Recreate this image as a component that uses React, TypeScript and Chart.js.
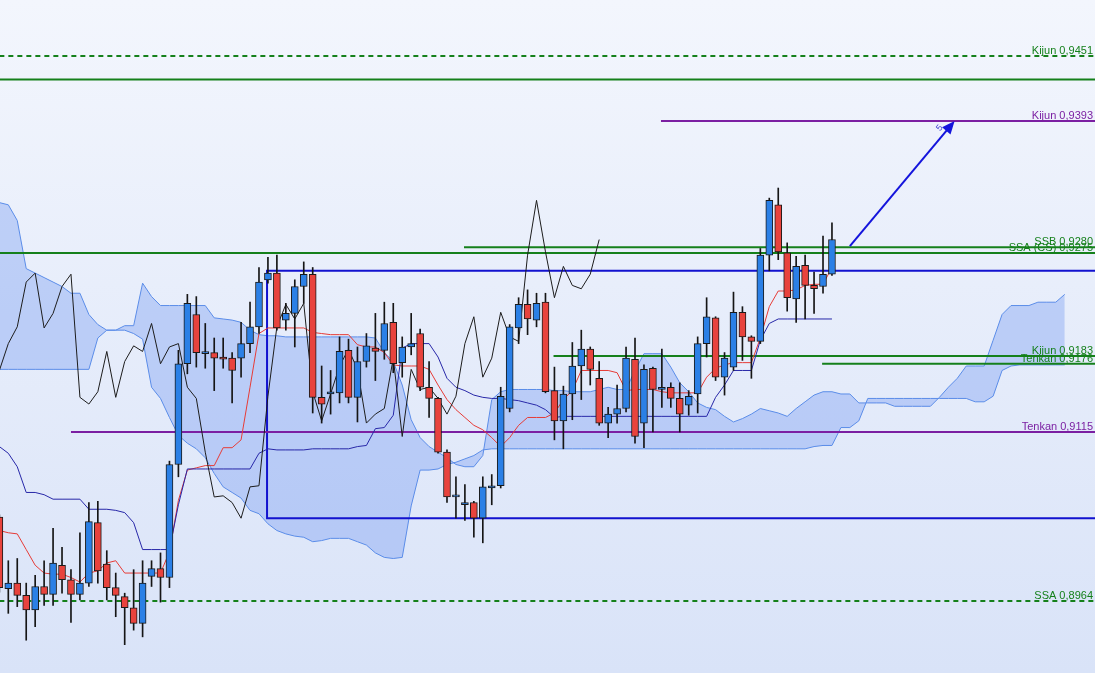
import { useEffect, useRef } from "react"
import { Chart, registerables } from "chart.js"
import type { Plugin } from "chart.js"

Chart.register(...registerables)

// candles, oldest first (EUR/CHF style quotes)
const opens = [
  0.9039, 0.8975, 0.898, 0.8969, 0.8956, 0.8977, 0.897, 0.8996, 0.8983, 0.897,
  0.898, 0.9034, 0.8997, 0.8976, 0.8968, 0.8958, 0.8944, 0.8986, 0.8993, 0.8985,
  0.9086, 0.9176, 0.922, 0.9185, 0.9186, 0.9182, 0.9181, 0.9181, 0.9194, 0.9209,
  0.9251, 0.9257, 0.9215, 0.9221, 0.9245, 0.9256, 0.9146, 0.9149, 0.915, 0.9188,
  0.9146, 0.9178, 0.919, 0.9188, 0.9213, 0.9177, 0.9191, 0.9203, 0.9155, 0.9145,
  0.9097, 0.9057, 0.905, 0.9052, 0.9038, 0.9065, 0.9067, 0.9136, 0.9208, 0.9229,
  0.9215, 0.9231, 0.9152, 0.9125, 0.9149, 0.9174, 0.9189, 0.9163, 0.9123, 0.9131,
  0.9136, 0.918, 0.9123, 0.9172, 0.9153, 0.9155, 0.9145, 0.9139, 0.9149, 0.9194,
  0.9217, 0.9164, 0.9173, 0.9222, 0.92, 0.9196, 0.9273, 0.9318, 0.9275, 0.9234,
  0.9264, 0.9246, 0.9245, 0.9256,
]
const highs = [
  0.9041, 0.9, 0.9002, 0.898, 0.8987, 0.9, 0.9029, 0.9012, 0.8992, 0.9025,
  0.9052, 0.9053, 0.9009, 0.8989, 0.8971, 0.8992, 0.9, 0.9, 0.9007, 0.9089,
  0.9188, 0.9238, 0.9236, 0.9212, 0.9199, 0.9199, 0.9186, 0.9213, 0.9231, 0.9262,
  0.9271, 0.9273, 0.923, 0.9251, 0.9267, 0.9262, 0.9174, 0.917, 0.92, 0.9198,
  0.9191, 0.9203, 0.9221, 0.9231, 0.923, 0.92, 0.9221, 0.9207, 0.9178, 0.9146,
  0.9099, 0.9075, 0.9068, 0.9053, 0.9075, 0.9077, 0.9155, 0.9211, 0.9235, 0.9242,
  0.9239, 0.9239, 0.9173, 0.9156, 0.9195, 0.9206, 0.9191, 0.9178, 0.9137, 0.9157,
  0.9191, 0.9199, 0.9175, 0.9173, 0.9189, 0.9159, 0.9159, 0.9152, 0.92, 0.9235,
  0.9218, 0.9186, 0.924, 0.9227, 0.9201, 0.9279, 0.9324, 0.9333, 0.9284, 0.9272,
  0.9273, 0.9258, 0.929, 0.9302,
]
const lows = [
  0.8972, 0.8953, 0.8959, 0.8929, 0.8941, 0.896, 0.896, 0.8971, 0.8945, 0.8965,
  0.8977, 0.898, 0.8965, 0.895, 0.8925, 0.8938, 0.8932, 0.8977, 0.8963, 0.8976,
  0.9075, 0.9167, 0.9173, 0.9172, 0.9152, 0.9172, 0.9141, 0.9164, 0.9186, 0.9203,
  0.9248, 0.9206, 0.9206, 0.9191, 0.923, 0.9132, 0.9123, 0.9131, 0.9141, 0.9141,
  0.9124, 0.9173, 0.9161, 0.918, 0.9168, 0.9164, 0.9184, 0.9152, 0.9128, 0.9096,
  0.9052, 0.9038, 0.9036, 0.9021, 0.9016, 0.905, 0.9065, 0.9133, 0.9194, 0.9202,
  0.9209, 0.915, 0.9108, 0.91, 0.9126, 0.9144, 0.9157, 0.9121, 0.911, 0.9123,
  0.9133, 0.9105, 0.9101, 0.9115, 0.9137, 0.9137, 0.9115, 0.913, 0.9132, 0.9182,
  0.9161, 0.9148, 0.917, 0.9179, 0.9163, 0.9194, 0.9259, 0.9269, 0.9223, 0.9213,
  0.9216, 0.9221, 0.9239, 0.9255,
]
const closes = [
  0.8976, 0.898, 0.8969, 0.8956, 0.8977, 0.897, 0.8998, 0.8983, 0.897, 0.898,
  0.9035, 0.8991, 0.8976, 0.8969, 0.8958, 0.8944, 0.898, 0.8993, 0.8985, 0.9086,
  0.9176, 0.923, 0.9186, 0.9186, 0.9181, 0.918, 0.917, 0.9194, 0.9209, 0.9249,
  0.9257, 0.9208, 0.9221, 0.9245, 0.9256, 0.9146, 0.914, 0.9151, 0.9187, 0.9146,
  0.9178, 0.9192, 0.9187, 0.9212, 0.9176, 0.9191, 0.9194, 0.9155, 0.9145, 0.9097,
  0.9057, 0.9058, 0.9052, 0.9038, 0.9066, 0.9067, 0.9147, 0.9209, 0.9229, 0.9216,
  0.923, 0.9151, 0.9125, 0.9149, 0.9174, 0.9189, 0.9171, 0.9123, 0.9131, 0.9136,
  0.9181, 0.9111, 0.9171, 0.9153, 0.9155, 0.9145, 0.9131, 0.9147, 0.9194, 0.9218,
  0.9164, 0.9181, 0.9222, 0.92, 0.9196, 0.9273, 0.9322, 0.9276, 0.9235, 0.9263,
  0.9246, 0.9243, 0.9256, 0.9287,
]

const tenkan = [
  0.9027, 0.9025, 0.9024, 0.901, 0.8996, 0.8989, 0.8988, 0.8988, 0.8985, 0.8981,
  0.8989, 0.8991, 0.8998, 0.9, 0.8989, 0.8989, 0.8989, 0.8989, 0.8989, 0.9008,
  0.9054, 0.9081, 0.9083, 0.9085, 0.9085, 0.9101, 0.9101, 0.9108, 0.9155, 0.9203,
  0.9208, 0.9208, 0.9208, 0.9208, 0.9208, 0.9204, 0.9203, 0.9202, 0.9202, 0.9202,
  0.9193, 0.9191, 0.9191, 0.9186, 0.9175, 0.9174, 0.9174, 0.9174, 0.9171, 0.9157,
  0.9144, 0.9135, 0.9128, 0.9121, 0.9117, 0.911, 0.9102, 0.911, 0.9121, 0.9128,
  0.9128, 0.9128, 0.9132, 0.9144, 0.9152, 0.917, 0.917, 0.917, 0.917, 0.9168,
  0.9152, 0.9153, 0.9153, 0.9153, 0.9151, 0.915, 0.915, 0.915, 0.915, 0.9164,
  0.9172, 0.9175, 0.9177, 0.9177, 0.9177, 0.9199, 0.9227, 0.9241, 0.9241, 0.9242,
  0.9246, 0.9247, 0.9247, 0.9262,
]
const kijun = [
  0.9102, 0.9096, 0.9084, 0.9061, 0.9061, 0.9059, 0.9055, 0.9055, 0.9055, 0.9055,
  0.9046, 0.9046, 0.9046, 0.9045, 0.9043, 0.9034, 0.901, 0.901, 0.901, 0.901,
  0.905, 0.9082, 0.9082, 0.9082, 0.9082, 0.9082, 0.9082, 0.9082, 0.9082, 0.9096,
  0.91, 0.9099, 0.9099, 0.9099, 0.9099, 0.91, 0.91, 0.91, 0.91, 0.91,
  0.9102, 0.9103, 0.9118, 0.9119, 0.913, 0.919, 0.9194, 0.9194, 0.9194, 0.9182,
  0.9163, 0.9155, 0.9152, 0.9148, 0.9146, 0.9145, 0.9145, 0.9144, 0.9143, 0.9141,
  0.9139, 0.9135, 0.9128, 0.9129, 0.9129, 0.9129, 0.9129, 0.9129, 0.9129, 0.9129,
  0.9129, 0.9129, 0.9129, 0.9129, 0.9129, 0.9129, 0.9129, 0.9129, 0.9129, 0.9129,
  0.9146, 0.9157, 0.917, 0.917, 0.917, 0.9197, 0.9212, 0.9216, 0.9216, 0.9216,
  0.9216, 0.9216, 0.9216, 0.9216,
]
// senkou spans as plotted (already 26 bars ahead), 120 bars
const spanA = [
  0.9171, 0.9171, 0.9171, 0.9171, 0.9171, 0.9171, 0.9171, 0.9171, 0.9171, 0.9171,
  0.9171, 0.9199, 0.9206, 0.9206, 0.921, 0.921, 0.9248, 0.9236, 0.9228, 0.9228,
  0.9228, 0.9228, 0.9228, 0.9228, 0.9217, 0.9216, 0.9215, 0.9213, 0.9206, 0.9202,
  0.9201, 0.9201, 0.92, 0.92, 0.92, 0.92, 0.92, 0.92, 0.92, 0.92,
  0.92, 0.92, 0.9199, 0.9186, 0.9178, 0.9157, 0.9126, 0.911, 0.9102, 0.9097,
  0.9092, 0.9086, 0.9084, 0.9084, 0.9094, 0.9144, 0.9151, 0.9153, 0.9153, 0.9153,
  0.9153, 0.9153, 0.9152, 0.9152, 0.9151, 0.9151, 0.9151, 0.9153, 0.9155, 0.9153,
  0.9153, 0.917, 0.9185, 0.9185, 0.9185, 0.9173, 0.9159, 0.9151, 0.9141, 0.9137,
  0.9135, 0.9129, 0.9124, 0.9127, 0.9131, 0.9136, 0.9134, 0.9132, 0.9129, 0.9136,
  0.9142, 0.9148, 0.9151, 0.9151, 0.9149, 0.9149, 0.9141, 0.9141, 0.9141, 0.9141,
  0.9138, 0.9138, 0.9138, 0.9138, 0.9138, 0.9146, 0.9155, 0.9163, 0.9174, 0.9174,
  0.9174, 0.9197, 0.922, 0.9228, 0.9228, 0.9228, 0.9231, 0.9231, 0.9231, 0.9238,
]
const spanB = [
  0.932, 0.9318, 0.9304, 0.9261, 0.9257, 0.9253, 0.9249, 0.9245, 0.9239, 0.9239,
  0.922, 0.9211, 0.9206, 0.9206, 0.9206, 0.9203, 0.9198, 0.9155, 0.9145, 0.9128,
  0.9112, 0.9105, 0.91, 0.9092, 0.9078, 0.9066, 0.9061, 0.9056, 0.9045, 0.9042,
  0.9033, 0.9027, 0.9024, 0.9022, 0.9021, 0.9017, 0.9018, 0.902, 0.902, 0.902,
  0.9017, 0.9014, 0.9007, 0.9003, 0.9002, 0.9003, 0.9049, 0.9081, 0.9081, 0.9082,
  0.9086, 0.9088, 0.9091, 0.9094, 0.9099, 0.91, 0.91, 0.91, 0.91, 0.91,
  0.91, 0.91, 0.91, 0.91, 0.91, 0.91, 0.91, 0.91, 0.91, 0.91,
  0.91, 0.91, 0.91, 0.91, 0.91, 0.91, 0.91, 0.91, 0.91, 0.91,
  0.91, 0.91, 0.91, 0.91, 0.91, 0.91, 0.91, 0.91, 0.91, 0.91,
  0.91, 0.9102, 0.9103, 0.9103, 0.9119, 0.9119, 0.9125, 0.9145, 0.9145, 0.9145,
  0.9145, 0.9145, 0.9145, 0.9145, 0.9145, 0.9145, 0.9145, 0.9145, 0.9145, 0.9142,
  0.9142, 0.9147, 0.917, 0.9174, 0.9175, 0.9175, 0.9175, 0.9175, 0.9175, 0.9175,
]
const CHIKOU_SHIFT = 26

// horizontal levels
const levelNames = ["Kijun", "", "Kijun", "SSB", "SSA (CS)", "Kijun", "Tenkan", "Tenkan", "SSA"]
const levelPrices = [0.9451, 0.943, 0.9393, 0.928, 0.9275, 0.9183, 0.9176, 0.9115, 0.8964]
const levelFrom = [0, 0, 73.9, 51.9, 0, 61.9, 91.9, 8, 0] // bar index where the line starts
const levelKinds = ["greenDash", "green", "purple", "green", "green", "green", "green", "purple", "greenDash"]

// range box and target arrow
const boxFrom = 29.9
const boxTop = 0.9259
const boxBottom = 0.9038
const arrowFrom = [95, 0.9281]
const arrowTo = [106.7, 0.9393]
const arrowLabel = "5"

// visible window
const X_MIN = 0.0726
const X_MAX = 122.38
const Y_MIN = 0.88997
const Y_MAX = 0.9501

const levelStyles: Record<string, { color: string; dash: number[] }> = {
  green: { color: "#15801b", dash: [] },
  greenDash: { color: "#15801b", dash: [5, 4] },
  purple: { color: "#7b1fa2", dash: [] },
}

const UP = "#2b80e6"
const DOWN = "#e8433d"

const series = (vals: number[]) => vals.map((y, i) => ({ x: i, y }))

const overlayPlugin: Plugin = {
  id: "overlay",
  afterDatasetsDraw(chart) {
    const { ctx, chartArea, scales } = chart
    const xs = scales.x
    const ys = scales.y
    ctx.save()
    ctx.font = '11px "Liberation Sans", Arial, sans-serif'
    ctx.textAlign = "right"
    ctx.textBaseline = "alphabetic"
    levelNames.forEach((name, i) => {
      if (!name) return
      const py = ys.getPixelForValue(levelPrices[i])
      ctx.fillStyle = levelStyles[levelKinds[i]].color
      ctx.fillText(`${name} ${levelPrices[i].toFixed(4).replace(".", ",")}`, chartArea.right - 2, py - 2)
    })

    // arrow
    const x1 = xs.getPixelForValue(arrowFrom[0])
    const y1 = ys.getPixelForValue(arrowFrom[1])
    const x2 = xs.getPixelForValue(arrowTo[0])
    const y2 = ys.getPixelForValue(arrowTo[1])
    const ang = Math.atan2(y2 - y1, x2 - x1)
    const cos = Math.cos(ang)
    const sin = Math.sin(ang)
    ctx.strokeStyle = "#1414dc"
    ctx.fillStyle = "#1414dc"
    ctx.lineWidth = 2
    ctx.beginPath()
    ctx.moveTo(x1, y1)
    ctx.lineTo(x2 - cos * 10, y2 - sin * 10)
    ctx.stroke()
    ctx.beginPath()
    ctx.moveTo(x2, y2)
    ctx.lineTo(x2 - cos * 13 + sin * 5.5, y2 - sin * 13 - cos * 5.5)
    ctx.lineTo(x2 - cos * 13 - sin * 5.5, y2 - sin * 13 + cos * 5.5)
    ctx.closePath()
    ctx.fill()

    ctx.translate(x2 - 15, y2 + 7)
    ctx.rotate(ang)
    ctx.font = '9px "Liberation Sans", Arial, sans-serif'
    ctx.textAlign = "center"
    ctx.textBaseline = "middle"
    ctx.fillStyle = "#3a3ad0"
    ctx.fillText(arrowLabel, 0, 0)
    ctx.restore()
  },
}

export default function App() {
  const chartRef = useRef<HTMLCanvasElement>(null)

  useEffect(() => {
    if (!chartRef.current) return

    const candleColors = closes.map((c, i) => (c >= opens[i] ? UP : DOWN))

    const levelSets = levelPrices.map((price, i) => ({
      type: "line" as const,
      data: [
        { x: levelFrom[i], y: price },
        { x: X_MAX + 1, y: price },
      ],
      borderColor: levelStyles[levelKinds[i]].color,
      borderDash: levelStyles[levelKinds[i]].dash,
      borderWidth: 2,
      pointRadius: 0,
      fill: false,
      order: 8,
    }))

    const chart = new Chart(chartRef.current, {
      type: "line",
      data: {
        datasets: [
          {
            label: "Senkou A",
            data: series(spanA),
            borderColor: "#5a8ce8",
            borderWidth: 1,
            pointRadius: 0,
            fill: false,
            order: 10,
          },
          {
            label: "Senkou B",
            data: series(spanB),
            borderColor: "#5a8ce8",
            backgroundColor: "rgba(110, 150, 240, 0.36)",
            borderWidth: 1,
            pointRadius: 0,
            fill: "-1",
            order: 10,
          },
          ...levelSets,
          {
            label: "Box",
            data: [
              { x: X_MAX + 1, y: boxTop },
              { x: boxFrom, y: boxTop },
              { x: boxFrom, y: boxBottom },
              { x: X_MAX + 1, y: boxBottom },
            ],
            borderColor: "#1212cf",
            borderWidth: 2,
            pointRadius: 0,
            fill: false,
            order: 8,
          },
          {
            label: "Kijun",
            data: series(kijun),
            borderColor: "#2727a8",
            borderWidth: 1,
            pointRadius: 0,
            fill: false,
            order: 5,
          },
          {
            label: "Tenkan",
            data: series(tenkan),
            borderColor: "#e63b36",
            borderWidth: 1,
            pointRadius: 0,
            fill: false,
            order: 5,
          },
          {
            label: "Chikou",
            data: series(closes.slice(CHIKOU_SHIFT)),
            borderColor: "#1c1c1c",
            borderWidth: 1,
            pointRadius: 0,
            fill: false,
            order: 4,
          },
          {
            type: "bar",
            label: "Wicks",
            data: lows.map((l, i) => ({ x: i, y: [l, highs[i]] })) as any,
            backgroundColor: "#151515",
            barThickness: 1,
            grouped: false,
            order: 2,
          },
          {
            type: "bar",
            label: "Bodies",
            data: opens.map((o, i) => ({ x: i, y: [o, closes[i]] })) as any,
            backgroundColor: candleColors,
            borderColor: "#1a1a1a",
            borderWidth: 1,
            borderSkipped: false,
            barThickness: 7,
            minBarLength: 2,
            grouped: false,
            order: 1,
          },
        ] as any,
      },
      options: {
        animation: false,
        responsive: true,
        maintainAspectRatio: false,
        events: [],
        layout: { padding: 0 },
        elements: { line: { tension: 0 } },
        scales: {
          x: { type: "linear", min: X_MIN, max: X_MAX, display: false, offset: false },
          y: { type: "linear", min: Y_MIN, max: Y_MAX, display: false },
        },
        plugins: {
          legend: { display: false },
          tooltip: { enabled: false },
        },
      },
      plugins: [overlayPlugin],
    })

    return () => {
      chart.destroy()
    }
  }, [])

  return (
    <div
      style={{
        position: "fixed",
        left: 0,
        top: 0,
        width: 1095,
        height: 673,
        background: "linear-gradient(to bottom, #f3f6fd 0%, #d9e3f8 100%)",
      }}
    >
      <canvas ref={chartRef} />
    </div>
  )
}
